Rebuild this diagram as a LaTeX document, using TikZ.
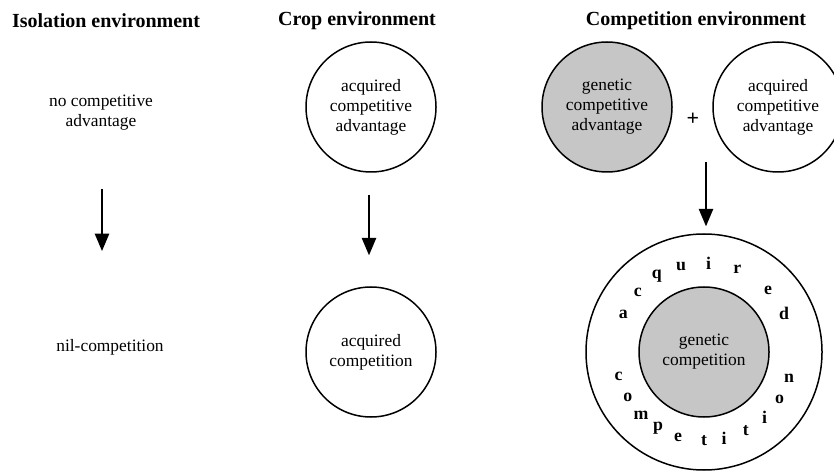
\documentclass[tikz,border=0pt]{standalone}
\usepackage{fontspec}
\setmainfont{Liberation Serif}
\usepackage{tikz}
\usetikzlibrary{calc}
\usetikzlibrary{arrows}

\begin{document}
\begin{tikzpicture}[x=0.5pt,y=0.5pt]
  \tikzset{myedge/.style={->, line width=1pt, >=triangle 45}};
  \tikzset{mycircle/.style={circle, draw=black, line width=0.75pt, minimum size=65pt, inner sep=0pt, align=center, font=\fontsize{8.7}{10}\selectfont}};
  \tikzset{mytitle/.style={font=\fontsize{10}{12}\selectfont\bfseries}};
  \tikzset{mytext/.style={align=center, font=\fontsize{8.7}{10}\selectfont}};
  \tikzset{myletter/.style={inner sep=0pt, font=\fontsize{8.9}{10}\selectfont\bfseries}};
  \useasboundingbox (0,0) rectangle (834,471);

  \node[mytitle] (tiso) at (106,450) {Isolation environment};
  \node[mytitle] (tcrop) at (357,450) {Crop environment};
  \node[mytitle] (tcomp) at (696,450) {Competition environment};

  % isolation
  \node[mytext] (noadv) at (101,358) {no competitive\\advantage};
  \node[mytext] (nilcomp) at (110,124) {nil-competition};
  \draw[myedge] ($(noadv)+(1,-76)$) -- ($(nilcomp)+(-8,96)$);

  % crop
  \node[mycircle] (cropadv) at (371,364) {acquired\\competitive\\advantage};
  \node[mycircle] (cropcomp) at (371,119) {acquired\\competition};
  \draw[myedge] ($(cropadv.south)+(-2,-22)$) -- ($(cropcomp.north)+(-2,31)$);

  % competition
  \node[mycircle, fill=gray!45] (genadv) at (607,364) {genetic\\competitive\\advantage};
  \node[mycircle] (acqadv) at (778,364) {acquired\\competitive\\advantage};
  \node[myletter, font=\fontsize{11}{12}\selectfont\bfseries] (plus) at (693,352) {+};

  \node[mycircle, minimum size=118pt] (ring) at (704,119) {};
  \node[mycircle, fill=gray!45] (gencomp) at (ring) {genetic\\competition};
  \draw[myedge] ($(ring.north)+(2,71)$) -- ($(ring.north)+(2,7)$);

  \foreach \ch/\ang [count=\k] in {a/155, c/138, q/122, u/105, i/87, r/68, e/44, d/26,
      c/196, o/211, m/225, p/239, e/253, t/270, i/283, t/298, i/313, o/328, n/343}
    \node[myletter] (l\k) at ($(ring)+(\ang:89)$) {\ch};
\end{tikzpicture}
\end{document}
